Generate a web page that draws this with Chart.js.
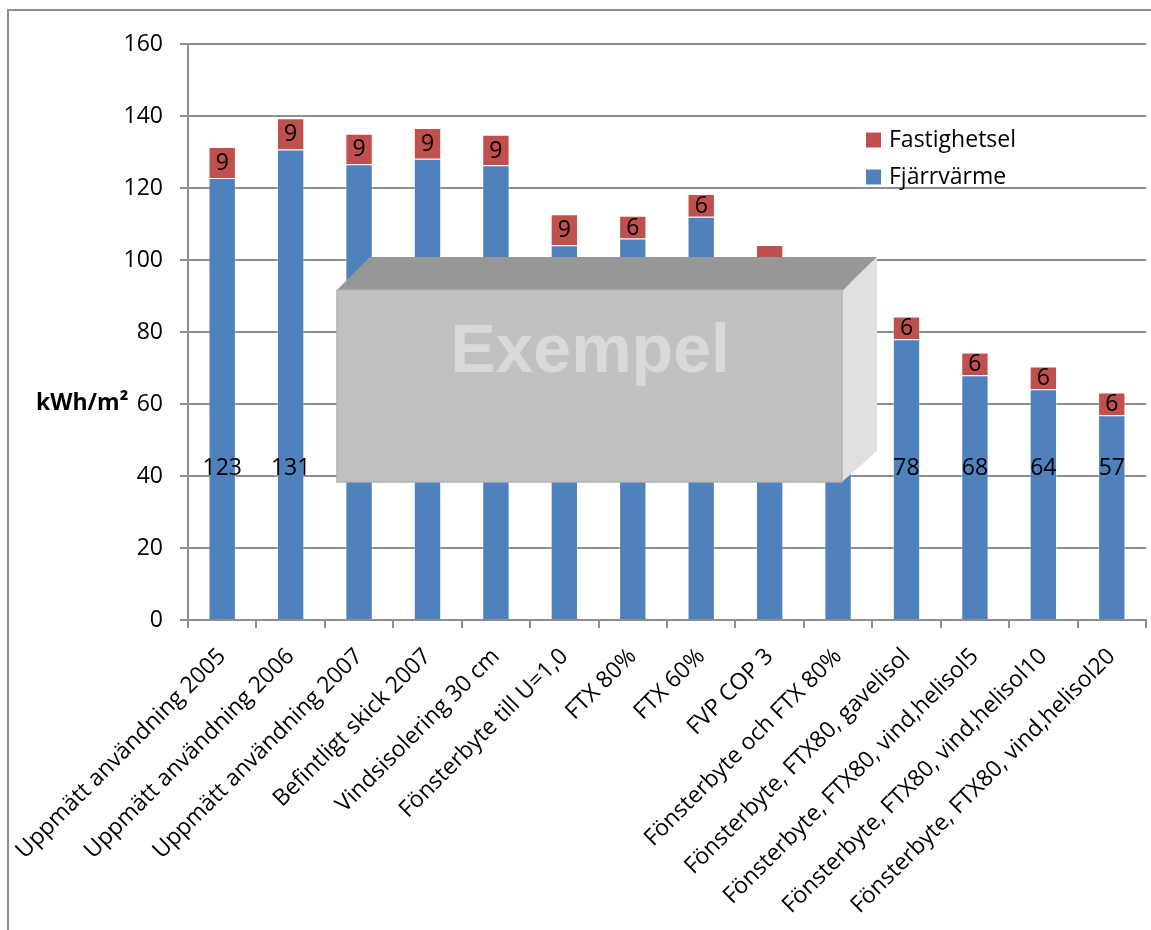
<!DOCTYPE html>
<html>
<head>
<meta charset="utf-8">
<script src="https://cdn.jsdelivr.net/npm/chart.js@4.4.0/dist/chart.umd.min.js"></script>
<style>
  html, body { margin: 0; padding: 0; background: #fff; }
  #wrap { position: relative; width: 1151px; height: 930px; }
</style>
</head>
<body>
<div id="wrap"><canvas id="energyChart" width="1151" height="930"></canvas></div>
<script>
// =============================================
// DATA
// =============================================

const categories = [
    'Uppmätt användning 2005',
    'Uppmätt användning 2006',
    'Uppmätt användning 2007',
    'Befintligt skick 2007',
    'Vindsisolering 30 cm',
    'Fönsterbyte till U=1,0',
    'FTX 80%',
    'FTX 60%',
    'FVP COP 3',
    'Fönsterbyte och FTX 80%',
    'Fönsterbyte, FTX80, gavelisol',
    'Fönsterbyte, FTX80, vind,helisol5',
    'Fönsterbyte, FTX80, vind,helisol10',
    'Fönsterbyte, FTX80, vind,helisol20'
];

// kWh/m2 per scenario
const fjarrvarme   = [122.8, 130.7, 126.6, 128.1, 126.3, 104.1, 106.0, 112.0, 90.0, 88.0, 78.0, 68.0, 64.1, 56.9];
const fastighetsel = [8.6, 8.7, 8.5, 8.6, 8.5, 8.6, 6.3, 6.3, 14.2, 6.0, 6.3, 6.3, 6.3, 6.3];

const yMin = 0;
const yMax = 160;
const yStep = 20;

// =============================================
// STYLE
// =============================================

const FONT = '"Open Sans", "DejaVu Sans", sans-serif';
const GRID = '#8e8e8e';
const BLUE = '#4f81bd';
const RED = '#c0504d';
const LABEL_LEVEL = 42; // where the Fjärrvärme numbers sit

// Draws border, value labels, legend, axis title and the "Exempel" box
const overlayPlugin = {
    id: 'overlay',
    beforeDraw(chart) {
        const ctx = chart.ctx;
        ctx.save();
        ctx.strokeStyle = GRID;
        ctx.lineWidth = 2;
        ctx.beginPath();
        ctx.moveTo(8, 940);
        ctx.lineTo(8, 10);
        ctx.lineTo(1160, 10);
        ctx.stroke();
        ctx.restore();
    },
    afterDatasetsDraw(chart) {
        const ctx = chart.ctx;
        const y = chart.scales.y;
        const blueMeta = chart.getDatasetMeta(0);
        const redMeta = chart.getDatasetMeta(1);
        ctx.save();
        ctx.fillStyle = '#000';
        ctx.font = '23px ' + FONT;
        ctx.textAlign = 'center';
        ctx.textBaseline = 'middle';
        blueMeta.data.forEach((bar, i) => {
            ctx.fillText(String(Math.round(fjarrvarme[i])), bar.x, y.getPixelForValue(LABEL_LEVEL));
        });
        redMeta.data.forEach((bar, i) => {
            ctx.fillText(String(Math.round(fastighetsel[i])), bar.x, (bar.y + bar.base) / 2 + 1);
        });
        ctx.restore();
    },
    afterDraw(chart) {
        const ctx = chart.ctx;
        ctx.save();

        // legend
        const items = [
            { text: 'Fastighetsel', color: RED, y: 140 },
            { text: 'Fjärrvärme', color: BLUE, y: 177 }
        ];
        ctx.font = '23px ' + FONT;
        ctx.textBaseline = 'middle';
        ctx.textAlign = 'left';
        items.forEach(it => {
            ctx.fillStyle = it.color;
            ctx.fillRect(866, it.y - 7.5, 15, 15);
            ctx.fillStyle = '#000';
            ctx.fillText(it.text, 889, it.y);
        });

        // y axis title
        ctx.font = 'bold 23px ' + FONT;
        ctx.fillText('kWh/m²', 36, 403);

        // "Exempel" box
        ctx.fillStyle = '#979797';
        ctx.beginPath();
        ctx.moveTo(337, 290);
        ctx.lineTo(370, 257);
        ctx.lineTo(877, 257);
        ctx.lineTo(842, 291);
        ctx.closePath();
        ctx.fill();

        ctx.fillStyle = '#e0e0e0';
        ctx.beginPath();
        ctx.moveTo(842, 291);
        ctx.lineTo(877, 257);
        ctx.lineTo(877, 451);
        ctx.lineTo(842, 482);
        ctx.closePath();
        ctx.fill();

        ctx.fillStyle = '#c1c1c1';
        ctx.fillRect(337, 290, 505, 192);
        ctx.strokeStyle = '#b2b2b2';
        ctx.lineWidth = 1.5;
        ctx.strokeRect(337, 290, 505, 192);

        ctx.fillStyle = '#d9d9d9';
        ctx.font = 'bold 68px "Liberation Sans", Arial, sans-serif';
        ctx.textAlign = 'center';
        ctx.textBaseline = 'alphabetic';
        ctx.fillText('Exempel', 590, 372);

        ctx.restore();
    }
};

new Chart(document.getElementById('energyChart'), {
    type: 'bar',
    data: {
        labels: categories,
        datasets: [
            {
                label: 'Fjärrvärme',
                data: fjarrvarme,
                backgroundColor: BLUE,
                borderColor: 'rgba(255,255,255,0.35)',
                borderWidth: 1,
                barPercentage: 0.4,
                categoryPercentage: 1.0
            },
            {
                label: 'Fastighetsel',
                data: fastighetsel,
                backgroundColor: RED,
                borderColor: 'rgba(255,255,255,0.35)',
                borderWidth: 1,
                barPercentage: 0.4,
                categoryPercentage: 1.0
            }
        ]
    },
    options: {
        responsive: false,
        animation: false,
        devicePixelRatio: 1,
        layout: { padding: { top: 44, right: 5, left: 0, bottom: 0 } },
        plugins: {
            legend: { display: false },
            tooltip: { enabled: false }
        },
        scales: {
            x: {
                stacked: true,
                grid: {
                    display: true,
                    drawOnChartArea: false,
                    drawTicks: true,
                    tickLength: 8,
                    color: GRID,
                    lineWidth: 2,
                    offset: true
                },
                border: { display: true, color: GRID, width: 2 },
                ticks: {
                    autoSkip: false,
                    minRotation: 45,
                    maxRotation: 45,
                    padding: 15,
                    color: '#000',
                    font: { family: FONT, size: 23 }
                },
                afterFit(scale) {
                    scale.height = 310;
                    scale.paddingLeft = 0;
                    scale.paddingRight = 0;
                }
            },
            y: {
                stacked: true,
                min: yMin,
                max: yMax,
                ticks: {
                    stepSize: yStep,
                    padding: 17,
                    color: '#000',
                    font: { family: FONT, size: 23 }
                },
                grid: {
                    color: GRID,
                    lineWidth: 2,
                    tickLength: 8
                },
                border: { display: true, color: GRID, width: 2 },
                afterFit(scale) {
                    scale.width = 188;
                    scale.paddingTop = 0;
                    scale.paddingBottom = 0;
                }
            }
        }
    },
    plugins: [overlayPlugin]
});
</script>
</body>
</html>
